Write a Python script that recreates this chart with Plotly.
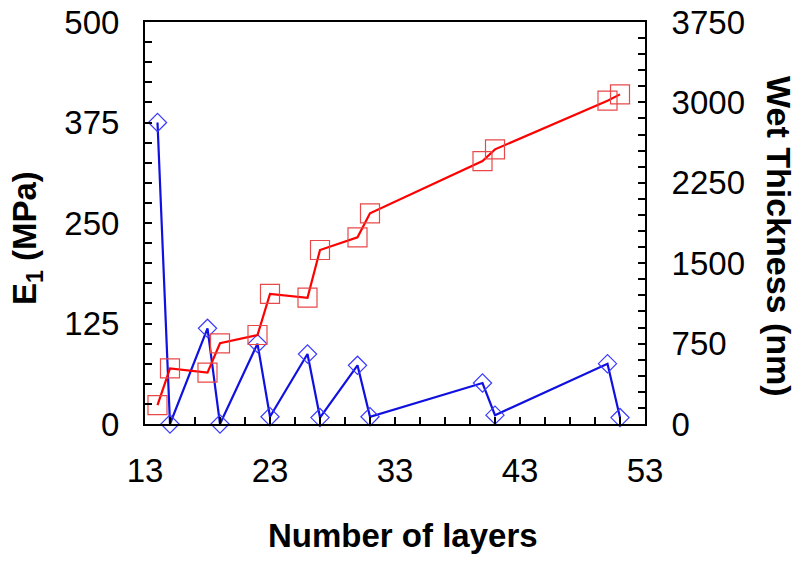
import plotly.graph_objects as go

layers = [14, 15, 18, 19, 22, 23, 26, 27, 30, 31, 40, 41, 50, 51]
modulus_mpa = [375, 0, 119, 0, 100, 9, 87, 8, 73, 9, 51, 11, 75, 8]
wet_thickness_nm = [177, 519, 479, 753, 830, 1213, 1178, 1623, 1741, 1965, 2453, 2562, 3016, 3075]

FONT = "Liberation Sans, Arial, sans-serif"

fig = go.Figure()
fig.add_trace(go.Scatter(
    x=layers, y=modulus_mpa, mode="lines+markers",
    line=dict(color="#1010e0", width=2.2),
    marker=dict(symbol="diamond-open", size=14, color="#3a3aff", line=dict(width=1.2, color="#3a3aff")),
    yaxis="y", showlegend=False, cliponaxis=False,
))
fig.add_trace(go.Scatter(
    x=layers, y=wet_thickness_nm, mode="lines+markers",
    line=dict(color="#ff0000", width=2.2),
    marker=dict(symbol="square-open", size=19, color="#e84848", line=dict(width=1.2, color="#e84848")),
    yaxis="y2", showlegend=False, cliponaxis=False,
))

axis_common = dict(
    showgrid=False, zeroline=False, showline=True, linecolor="black", linewidth=2,
    ticks="inside", ticklen=7, tickwidth=2, tickcolor="black", automargin=False,
    ticklabeloverflow="allow",
    tickfont=dict(family=FONT, size=33, color="black"),
)

# page body has an 8px margin, so the figure is offset by 8px; compensate
fig.update_layout(
    width=792, height=556,
    margin=dict(l=137, r=155, t=14, b=140),
    paper_bgcolor="white", plot_bgcolor="white",
    xaxis=dict(range=[13, 53], tick0=13, dtick=10, mirror=True,
               minor=dict(dtick=2, tick0=13, ticks="inside", ticklen=7, tickwidth=2, tickcolor="black"),
               ticklabelstandoff=16, **axis_common),
    yaxis=dict(range=[0, 500], tick0=0, dtick=125,
               minor=dict(dtick=25, ticks="inside", ticklen=7, tickwidth=2, tickcolor="black"),
               ticklabelstandoff=17, **axis_common),
    yaxis2=dict(range=[0, 3750], tick0=0, dtick=750, overlaying="y", side="right",
                minor=dict(dtick=150, ticks="inside", ticklen=7, tickwidth=2, tickcolor="black"),
                ticklabelstandoff=18, **axis_common),
    annotations=[
        dict(text="<b>Number of layers</b>", x=(403 - 145) / 500, y=(424 - 535) / 402,
             xref="paper", yref="paper", showarrow=False, xanchor="center", yanchor="middle",
             font=dict(family=FONT, size=33, color="black")),
        dict(text="<b>E<sub>1</sub> (MPa)</b>", x=(27 - 145) / 500, y=(424 - 238) / 402,
             xref="paper", yref="paper", showarrow=False, textangle=-90,
             xanchor="center", yanchor="middle",
             font=dict(family=FONT, size=33, color="black")),
        dict(text="<b>Wet Thickness (nm)</b>", x=(779 - 145) / 500, y=(424 - 236) / 402,
             xref="paper", yref="paper", showarrow=False, textangle=90,
             xanchor="center", yanchor="middle",
             font=dict(family=FONT, size=34, color="black")),
    ],
)

fig.write_html("out.html")
